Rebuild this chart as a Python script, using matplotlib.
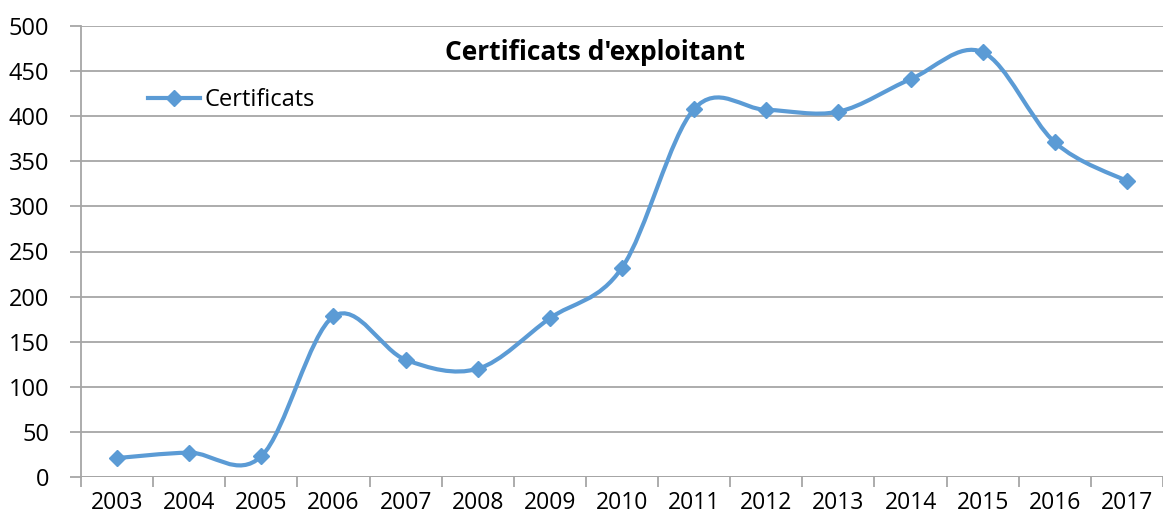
import matplotlib
matplotlib.use("Agg")
import matplotlib.pyplot as plt
from matplotlib.path import Path
from matplotlib.patches import PathPatch
from matplotlib.lines import Line2D
import numpy as np

years = ["2003", "2004", "2005", "2006", "2007", "2008", "2009", "2010",
         "2011", "2012", "2013", "2014", "2015", "2016", "2017"]
certificats = [21, 27, 23, 178, 130, 120, 176, 232, 408, 407, 405, 441, 471, 371, 328]
yticks = [0, 50, 100, 150, 200, 250, 300, 350, 400, 450, 500]
title = "Certificats d'exploitant"
series_name = "Certificats"

color = "#5B9BD5"
grid_color = "#A6A6A6"

plt.rcParams['font.family'] = ['Open Sans', 'DejaVu Sans']

fig = plt.figure(figsize=(11.63, 5.19), dpi=100)
W, H = 1163, 519
ax = fig.add_axes([81 / W, 1 - 477 / H, (1163 - 81) / W, (477 - 26) / H])

x = np.arange(len(years))
y = np.array(certificats, dtype=float)

# Excel-style smoothed line: cubic Bezier segments with Catmull-Rom like control points
verts = [(x[0], y[0])]
codes = [Path.MOVETO]
n = len(x)
for i in range(n - 1):
    p0 = (x[i - 1], y[i - 1]) if i > 0 else (x[i], y[i])
    p1 = (x[i], y[i])
    p2 = (x[i + 1], y[i + 1])
    p3 = (x[i + 2], y[i + 2]) if i + 2 < n else (x[i + 1], y[i + 1])
    c1 = (p1[0] + (p2[0] - p0[0]) / 6, p1[1] + (p2[1] - p0[1]) / 6)
    c2 = (p2[0] - (p3[0] - p1[0]) / 6, p2[1] - (p3[1] - p1[1]) / 6)
    verts += [c1, c2, p2]
    codes += [Path.CURVE4] * 3
path = Path(verts, codes)
ax.add_patch(PathPatch(path, facecolor="none", edgecolor=color, lw=3.0,
                       capstyle="round", joinstyle="round", zorder=3))
ax.plot(x, y, linestyle="none", marker="D", markersize=8, color=color, zorder=4)

ax.set_xlim(-0.5, len(years) - 0.5)
ax.set_ylim(0, 500)
ax.set_yticks(yticks)
ax.set_yticklabels([str(v) for v in yticks])
ax.set_xticks(x)
ax.set_xticklabels(years)
ax.set_xticks(np.arange(-0.5, len(years), 1.0), minor=True)

ax.yaxis.grid(True, color=grid_color, lw=1.3)
ax.set_axisbelow(True)
for s in ["top", "right", "bottom"]:
    ax.spines[s].set_visible(False)
ax.spines["left"].set_color(grid_color)
ax.spines["left"].set_linewidth(1.3)
ax.axhline(0, color=grid_color, lw=1.3, zorder=1)

ax.tick_params(axis="y", length=8, width=1.3, color=grid_color, labelsize=17,
               pad=15, labelcolor="black")
ax.tick_params(axis="x", which="major", length=0, labelsize=16.5, pad=10,
               labelcolor="black")
ax.tick_params(axis="x", which="minor", length=7, width=1.3, color=grid_color)

fig.text(595 / W, 1 - 60 / H, title, ha="center", va="baseline",
         fontsize=19, fontweight="bold", color="black")

handle = Line2D([], [], color=color, lw=3.0, marker="D", markersize=8)
leg = ax.legend([handle], [series_name], loc="center left",
                bbox_to_anchor=((148 - 81) / (1163 - 81), 1 - (100 - 26) / (477 - 26)),
                frameon=False, fontsize=17, handlelength=2.2, handletextpad=0.2,
                borderaxespad=0, borderpad=0)

fig.savefig("out.png", dpi=100)
